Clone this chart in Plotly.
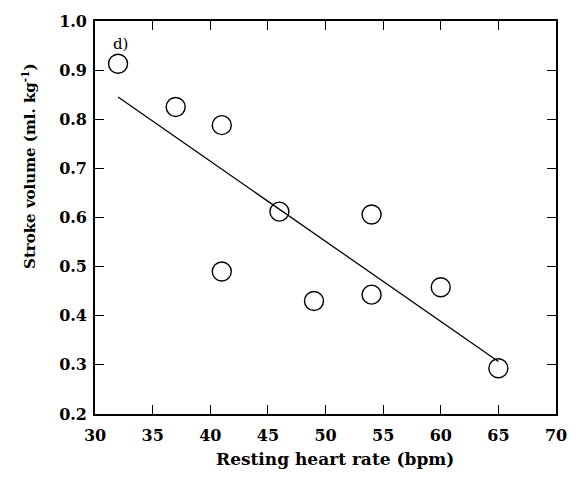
import numpy as np
import plotly.graph_objects as go

# Resting heart rate (bpm) and stroke volume (ml/kg) per subject
heart_rate = [32, 37, 41, 41, 46, 49, 54, 54, 60, 65]
stroke_volume = [0.913, 0.825, 0.788, 0.490, 0.612, 0.430, 0.443, 0.606, 0.458, 0.293]

x_ticks = [30, 35, 40, 45, 50, 55, 60, 65, 70]
y_ticks = [0.2, 0.3, 0.4, 0.5, 0.6, 0.7, 0.8, 0.9, 1.0]

# least-squares regression line across the observed range
slope, intercept = np.polyfit(heart_rate, stroke_volume, 1)
fit_x = [min(heart_rate), max(heart_rate)]
fit_y = [slope * v + intercept for v in fit_x]

FONT = "DejaVu Serif"

fig = go.Figure()
fig.add_trace(go.Scatter(
    x=fit_x, y=fit_y, mode="lines",
    line=dict(color="black", width=1.3),
    showlegend=False, hoverinfo="skip",
))
fig.add_trace(go.Scatter(
    x=heart_rate, y=stroke_volume, mode="markers",
    marker=dict(symbol="circle-open", size=19, color="black", line=dict(width=1.4)),
    showlegend=False,
))

axis_common = dict(
    showline=True, mirror="allticks", linecolor="black", linewidth=1.6,
    ticks="inside", ticklen=9, tickwidth=1.4, tickcolor="black",
    showgrid=False, zeroline=False,
    tickfont=dict(family=FONT, size=16, color="black", weight="bold"),
)

fig.update_layout(
    width=579, height=482,
    margin=dict(l=95, r=20, t=17, b=68),
    paper_bgcolor="white", plot_bgcolor="white",
    xaxis=dict(range=[30, 70], tickvals=x_ticks, ticklabelstandoff=6,
               ticktext=[str(v) for v in x_ticks], **axis_common),
    yaxis=dict(range=[0.2, 1.0], tickvals=y_ticks, ticklabelstandoff=3,
               ticktext=[f"{v:.1f}" for v in y_ticks], **axis_common),
    annotations=[
        dict(text="<b>Resting heart rate (bpm)</b>", xref="paper", yref="paper",
             x=0.52, y=-0.085, xanchor="center", yanchor="top", showarrow=False,
             font=dict(family=FONT, size=17, color="black")),
        dict(text="<b>Stroke volume (ml. kg<sup>-1</sup>)</b>", xref="paper", yref="paper",
             x=-0.142, y=0.63, xanchor="center", yanchor="middle", textangle=-90,
             showarrow=False, font=dict(family=FONT, size=15, color="black")),
        dict(text="d)", xref="x", yref="y", x=32.2, y=0.953, xanchor="center",
             yanchor="middle", showarrow=False,
             font=dict(family=FONT, size=15, color="black")),
    ],
)

fig.write_html("out.html")
